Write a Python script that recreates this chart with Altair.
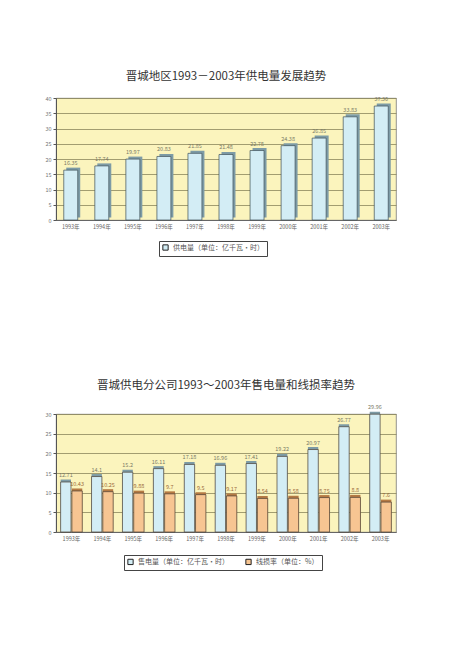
import altair as alt
import pandas as pd

years = ["1993年", "1994年", "1995年", "1996年", "1997年", "1998年",
         "1999年", "2000年", "2001年", "2002年", "2003年"]
supply = [16.35, 17.74, 19.97, 20.83, 21.85, 21.48, 22.78, 24.38, 26.85, 33.83, 37.36]
sales = [12.71, 14.10, 15.20, 16.11, 17.18, 16.96, 17.41, 19.22, 20.97, 26.77, 29.96]
loss = [10.43, 10.25, 9.88, 9.70, 9.50, 9.17, 8.54, 8.58, 8.75, 8.80, 7.60]

S1 = "供电量（单位：亿千瓦·时）"
S2 = "售电量（单位：亿千瓦·时）"
S3 = "线损率（单位：%）"

FONT = "Noto Sans CJK SC"
BLUE = "#d3edf5"
ORANGE = "#f7c592"
BG = "#ffffff"

df1 = pd.DataFrame({"year": years, "value": supply, "series": S1})
df1["label"] = df1["value"].map(lambda v: f"{v:.2f}")
df2 = pd.concat([
    pd.DataFrame({"year": years, "value": sales, "series": S2}),
    pd.DataFrame({"year": years, "value": loss, "series": S3}),
])
df2["label"] = df2["value"].map(lambda v: f"{v:g}")

W = 340
x_axis = alt.Axis(title=None, labelAngle=0, labelFontSize=5.5, labelColor="#666",
                  ticks=False, domainColor="#666", labelPadding=4, labelFont=FONT)


def y_axis(vals):
    return alt.Axis(title=None, values=vals, labelFontSize=5.5, labelColor="#777",
                    tickColor="#555", tickSize=3, domainColor="#555",
                    gridColor="#8c865c", gridWidth=0.8, labelFont=FONT)


# ---------- chart 1 ----------
base1 = alt.Chart(df1).encode(
    x=alt.X("year:N", sort=years, axis=x_axis,
            scale=alt.Scale(paddingInner=0.55, paddingOuter=0.25)),
    y=alt.Y("value:Q", scale=alt.Scale(domain=[0, 40]),
            axis=y_axis([0, 5, 10, 15, 20, 25, 30, 35, 40])),
)
shadow1 = base1.mark_bar(xOffset=2.5, yOffset=-2.5, color="#7d9ba6")
bars1 = base1.mark_bar(stroke="#3d4f57", strokeWidth=0.7).encode(
    color=alt.Color("series:N", scale=alt.Scale(domain=[S1], range=[BLUE]),
                    legend=alt.Legend(title=None, orient="none", legendX=103, legendY=143,
                                      strokeColor="#444", padding=3, labelFontSize=7,
                                      labelFont=FONT, labelColor="#555",
                                      symbolType="square", symbolSize=28,
                                      symbolStrokeColor="#222", symbolStrokeWidth=1,
                                      fillColor=BG, labelLimit=300))
)
text1 = base1.mark_text(dy=-7, fontSize=5.5, color="#7a7a66", font=FONT).encode(text="label:N")
chart1 = alt.layer(shadow1, bars1, text1).properties(
    width=W, height=122,
    title=alt.TitleParams("晋城地区1993－2003年供电量发展趋势", fontSize=11.5,
                          font=FONT, fontWeight="normal", color="#333", offset=14),
)

# ---------- chart 2 ----------
base2 = alt.Chart(df2).encode(
    x=alt.X("year:N", sort=years, axis=x_axis,
            scale=alt.Scale(paddingInner=0.3, paddingOuter=0.15)),
    xOffset=alt.XOffset("series:N", sort=[S2, S3], scale=alt.Scale(paddingInner=0.08)),
    y=alt.Y("value:Q", scale=alt.Scale(domain=[0, 30]),
            axis=y_axis([0, 5, 10, 15, 20, 25, 30])),
)
shadow2 = base2.mark_bar(xOffset=2.5, yOffset=-2.5).encode(
    color=alt.Color("series:N", scale=alt.Scale(domain=[S2, S3], range=["#7d9ba6", "#b57a44"]),
                    legend=None)
)
bars2 = base2.mark_bar(stroke="#4a3f35", strokeWidth=0.7).encode(
    fill=alt.Fill("series:N", scale=alt.Scale(domain=[S2, S3], range=[BLUE, ORANGE]),
                  legend=alt.Legend(title=None, orient="none", direction="horizontal",
                                    legendX=68, legendY=141, strokeColor="#444", padding=3,
                                    labelFontSize=7, labelFont=FONT, labelColor="#555",
                                    symbolType="square", symbolSize=28,
                                    symbolStrokeColor="#222", symbolStrokeWidth=1,
                                    fillColor=BG, columnPadding=14, labelLimit=300))
)
text2 = base2.mark_text(dy=-7, fontSize=5.5, font=FONT).encode(
    text="label:N",
    color=alt.Color("series:N", scale=alt.Scale(domain=[S2, S3], range=["#7a7a66", "#9a6a3a"]),
                    legend=None),
)
chart2 = alt.layer(shadow2, bars2, text2).resolve_scale(color="independent").properties(
    width=W, height=118,
    title=alt.TitleParams("晋城供电分公司1993～2003年售电量和线损率趋势", fontSize=11.5,
                          font=FONT, fontWeight="normal", color="#333", offset=14),
)

chart = alt.vconcat(chart1, chart2, spacing=122).resolve_scale(
    color="independent", fill="independent"
).properties(
    padding={"top": 62, "left": 36, "right": 5, "bottom": 5},
    background=BG,
).configure_view(
    fill="#fbf4bd", stroke="#777", strokeWidth=0.8
).configure_axis(
    gridOpacity=1
)

chart.save("out.html", embed_options={"renderer": "svg", "actions": False})
